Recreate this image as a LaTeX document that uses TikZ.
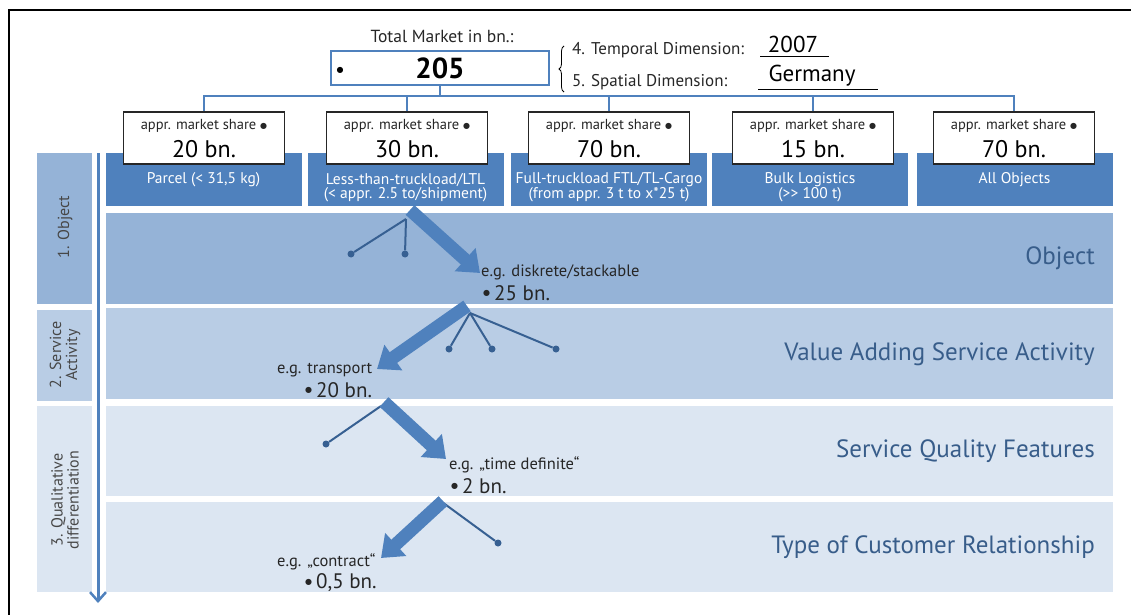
\documentclass[tikz,border=0pt]{standalone}
\usepackage{fontspec}
\setmainfont{PT Sans}
\newfontfamily\symfont{DejaVu Sans}
\newcommand\blt[1][0pt]{\raisebox{#1}{\symfont\fontsize{8}{8}\selectfont ●}}
\usetikzlibrary{arrows.meta,decorations.pathreplacing}
\definecolor{blueA}{HTML}{4F81BD}
\definecolor{rowA}{HTML}{95B3D7}
\definecolor{rowB}{HTML}{B9CDE5}
\definecolor{rowC}{HTML}{DCE6F2}
\definecolor{thinblue}{HTML}{376092}
\definecolor{bandtext}{HTML}{385D8A}
\definecolor{txt}{HTML}{262626}
\tikzset{
 tmbox/.style={draw=blueA, line width=1.2pt, fill=white, minimum width=218pt, minimum height=34pt, inner sep=0},
 sharebox/.style={draw=black!85, line width=1.3pt, fill=white, minimum width=161pt, minimum height=52pt, inner sep=0},
 catbox/.style={fill=blueA, minimum width=196pt, minimum height=53pt, inner sep=0},
 cattext/.style={text=white, font=\fontsize{15.5}{15}\selectfont, inner sep=0},
 sharetxt/.style={text=txt, font=\fontsize{14.5}{16}\selectfont, inner sep=0},
 shareval/.style={text=black, font=\fontsize{24}{26}\selectfont, inner sep=0},
 lblbox/.style={minimum width=55pt, inner sep=0},
 rowbox/.style={minimum width=1007pt, inner sep=0},
 busline/.style={draw=blueA, line width=1.3pt},
 thinline/.style={draw=thinblue, line width=2pt},
 dotnode/.style={circle, fill=thinblue, inner sep=0, minimum size=7pt},
 fatarrow/.style={draw=blueA, line width=13pt, -{Triangle[width=30pt,length=20pt]}},
 egtext/.style={anchor=west, font=\fontsize{16.5}{18}\selectfont, text=txt, inner sep=0},
 valtext/.style={anchor=west, font=\fontsize{21}{22}\selectfont, text=txt, inner sep=0},
 bandlabel/.style={anchor=east, font=\fontsize{25}{28}\selectfont, text=bandtext, inner sep=0},
 sidelabel/.style={rotate=90, font=\fontsize{16}{16}\selectfont, text=txt!85, align=center, inner sep=0},
 hdrtext/.style={anchor=west, font=\fontsize{17}{19}\selectfont, text=txt, inner sep=0},
 hdrval/.style={font=\fontsize{23}{25}\selectfont, text=black, inner sep=0},
}
\begin{document}
\begin{tikzpicture}[x=1pt,y=-1pt]
\useasboundingbox (0,0) rectangle (1131,615);
% frame
\draw[line width=2pt] (1131,10) -- (9,10) -- (9,615);

% header
\node[font=\fontsize{17.5}{19}\selectfont, text=txt, inner sep=0] (tmlabel) at (442,36) {Total Market in bn.:};
\node[tmbox] (tm) at (440,68) {};
\node[inner sep=0] (tmbul) at (340,70) {\blt};
\node[inner sep=0, font=\fontsize{29}{31}\selectfont\bfseries] (tmval) at (440,68) {205};

\draw[decorate, decoration={brace, amplitude=5pt}, line width=0.8pt] (564,92) -- (564,46);
\node[hdrtext] (tempo) at (572,50) {4. Temporal Dimension:};
\node[hdrtext] (spat) at (572,82) {5. Spatial Dimension:};
\node[hdrval] (yr) at (793,44) {2007};
\node[hdrval] (ger) at (812,76) {Germany};
\draw[line width=1pt] (760,57) -- (829,57);
\draw[line width=1pt] (758,90) -- (878,90);

% category boxes
\node[catbox] (c1) at (203.5,179.5) {};
\node[catbox] (c2) at (405.5,179.5) {};
\node[catbox] (c3) at (609,179.5) {};
\node[catbox] (c4) at (810,179.5) {};
\node[catbox] (c5) at (1014.5,179.5) {};
\node[cattext] (c1t) at (203.5,180) {Parcel (< 31,5 kg)};
\node[cattext] (c2t) at (405.5,180) {Less-than-truckload/LTL};
\node[cattext] (c2u) at (405.5,195) {(< appr. 2.5 to/shipment)};
\node[cattext] (c3t) at (609,180) {Full-truckload FTL/TL-Cargo};
\node[cattext] (c3u) at (609,195) {(from appr. 3 t to x*25 t)};
\node[cattext] (c4t) at (810,180) {Bulk Logistics};
\node[cattext] (c4u) at (810,195) {({>}{>} 100 t)};
\node[cattext] (c5t) at (1014.5,180) {All Objects};

% share boxes
\foreach \n/\x/\v in {1/204/20, 2/407/30, 3/609/70, 4/813/15, 5/1014/70}{
  \node[sharebox] (s\n) at (\x,138) {};
  \node[sharetxt] (s\n a) at (\x,126) {appr. market share \blt[1.3pt]};
  \node[shareval] (s\n b) at (\x,149) {\v\ bn.};
}

% bus connectors
\coordinate (bus) at (440,96);
\draw[busline] (tm.south) -- (tm.south |- bus);
\draw[busline] (s1.north) -- (s1.north |- bus) -- (s5.north |- bus) -- (s5.north);
\draw[busline] (s2.north) -- (s2.north |- bus);
\draw[busline] (s3.north) -- (s3.north |- bus);
\draw[busline] (s4.north) -- (s4.north |- bus);

% side labels
\node[lblbox, fill=rowA, minimum height=151pt] (l1) at (64.5,228.5) {};
\node[lblbox, fill=rowB, minimum height=91pt] (l2) at (64.5,355.5) {};
\node[lblbox, fill=rowC, minimum height=186pt] (l3) at (64.5,499) {};
\node[sidelabel] at (65,227) {1. Object};
\node[sidelabel] at (65,355) {2. Service\\Activity};
\node[sidelabel] at (65,500) {3. Qualitative\\differentiation};

% rows
\node[rowbox, fill=rowA, minimum height=91pt] (r1) at (609.5,258.5) {};
\node[rowbox, fill=rowB, minimum height=91pt] (r2) at (609.5,353.5) {};
\node[rowbox, fill=rowC, minimum height=90pt] (r3) at (609.5,451) {};
\node[rowbox, fill=rowC, minimum height=90pt] (r4) at (609.5,547) {};
\node[bandlabel] at (1095,258) {Object};
\node[bandlabel] at (1095,354) {Value Adding Service Activity};
\node[bandlabel] at (1095,451) {Service Quality Features};
\node[bandlabel] at (1095,547) {Type of Customer Relationship};

% left arrow
\coordinate (arrtop) at (98,153);
\coordinate (arrbot) at (98,603);
\draw[blueA, line width=3pt, -{Straight Barb[length=9pt,width=16pt,line width=2.5pt]}] (arrtop) -- (arrbot);

% row 1 tree
\coordinate (j1) at (406,219);
\node[dotnode] (d11) at (351,254) {};
\node[dotnode] (d12) at (405,254) {};
\draw[thinline] (j1) -- (d11);
\draw[thinline] (j1) -- (d12);
\coordinate (a1s) at (410,210);
\coordinate (a1e) at (480,273);
\draw[fatarrow] (a1s) -- (a1e);
\node[egtext] (e1) at (481,272) {e.g. diskrete/stackable};
\node[valtext] (v1) at (483,293) {\blt[4.5pt]\hspace{4pt}25 bn.};

% row 2 tree
\coordinate (j2) at (470,313);
\node[dotnode] (d21) at (449,349) {};
\node[dotnode] (d22) at (492,349) {};
\node[dotnode] (d23) at (556,349) {};
\draw[thinline] (j2) -- (d21);
\draw[thinline] (j2) -- (d22);
\draw[thinline] (j2) -- (d23);
\coordinate (a2s) at (467,306);
\coordinate (a2e) at (377,369);
\draw[fatarrow] (a2s) -- (a2e);
\node[egtext] (e2) at (277,370) {e.g. transport};
\node[valtext] (v2) at (305,390) {\blt[4.5pt]\hspace{4pt}20 bn.};

% row 3 tree
\coordinate (j3) at (381,406);
\node[dotnode] (d31) at (326,444) {};
\draw[thinline] (j3) -- (d31);
\coordinate (a3s) at (384,402);
\coordinate (a3e) at (446,459);
\draw[fatarrow] (a3s) -- (a3e);
\node[egtext] (e3) at (449,465) {e.g. „time definite“};
\node[valtext] (v3) at (451,486) {\blt[4.5pt]\hspace{4pt}2 bn.};

% row 4 tree
\coordinate (j4) at (442,502);
\node[dotnode] (d41) at (498,543) {};
\draw[thinline] (j4) -- (d41);
\coordinate (a4s) at (443,501);
\coordinate (a4e) at (381,558);
\draw[fatarrow] (a4s) -- (a4e);
\node[egtext] (e4) at (277,562) {e.g. „contract“};
\node[valtext] (v4) at (305,583) {\blt[4.5pt]\hspace{4pt}0,5 bn.};
\end{tikzpicture}
\end{document}
